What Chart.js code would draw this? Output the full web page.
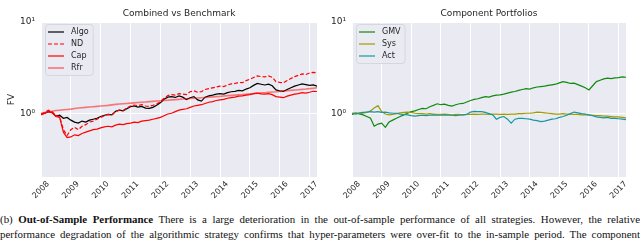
<!DOCTYPE html>
<html>
<head>
<meta charset="utf-8">
<script src="https://cdn.jsdelivr.net/npm/chart.js@4.4.1/dist/chart.umd.min.js"></script>
<style>
  body { margin: 0; background: #fff; width: 640px; overflow: hidden; }
  .row { display: flex; }
  canvas { display: block; }
  .cap { width: 640px; font-family: "Liberation Serif", serif; font-size: 10.9px; line-height: 15px; color: #111;
         text-align: justify; text-align-last: justify; white-space: nowrap; overflow: hidden; }
  .cap1 { margin-top: 7px; }
</style>
</head>
<body>
<div class="row">
  <canvas id="left" width="320" height="205"></canvas>
  <canvas id="right" width="320" height="205"></canvas>
</div>
<div class="cap cap1">(b) <b>Out-of-Sample Performance</b> There is a large deterioration in the out-of-sample performance of all strategies. However, the relative</div>
<div class="cap">performance degradation of the algorithmic strategy confirms that hyper-parameters were over-fit to the in-sample period. The component</div>
<script>
const years = [
  2008, 2008.125, 2008.25, 2008.375, 2008.5, 2008.625, 2008.75, 2008.875,
  2009, 2009.125, 2009.25, 2009.375, 2009.5, 2009.625, 2009.75, 2009.875,
  2010, 2010.125, 2010.25, 2010.375, 2010.5, 2010.625, 2010.75, 2010.875,
  2011, 2011.125, 2011.25, 2011.375, 2011.5, 2011.625, 2011.75, 2011.875,
  2012, 2012.125, 2012.25, 2012.375, 2012.5, 2012.625, 2012.75, 2012.875,
  2013, 2013.125, 2013.25, 2013.375, 2013.5, 2013.625, 2013.75, 2013.875,
  2014, 2014.125, 2014.25, 2014.375, 2014.5, 2014.625, 2014.75, 2014.875,
  2015, 2015.125, 2015.25, 2015.375, 2015.5, 2015.625, 2015.75, 2015.875,
  2016, 2016.125, 2016.25, 2016.375, 2016.5, 2016.625, 2016.75, 2016.875,
  2017, 2017.125, 2017.25
];
const yearTicks = [2008, 2009, 2010, 2011, 2012, 2013, 2014, 2015, 2016, 2017];

// left panel
const algo = [
  0.97, 1.00, 1.04, 1.02, 0.93, 0.95, 0.88, 0.90,
  0.84, 0.80, 0.78, 0.82, 0.80, 0.84, 0.86, 0.88,
  0.92, 0.95, 0.97, 0.96, 1.05, 1.08, 1.06, 1.12,
  1.18, 1.20, 1.17, 1.19, 1.14, 1.13, 1.16, 1.22,
  1.30, 1.42, 1.50, 1.52, 1.49, 1.55, 1.50, 1.41,
  1.48, 1.52, 1.40, 1.36, 1.50, 1.55, 1.58, 1.62,
  1.64, 1.62, 1.68, 1.72, 1.74, 1.78, 1.76, 1.84,
  1.90, 2.02, 2.12, 2.08, 2.04, 2.08, 2.00, 1.80,
  1.76, 1.74, 1.82, 1.90, 1.98, 2.04, 2.10, 2.06,
  2.02, 2.04, 1.98
];
const nd = [
  0.97, 1.02, 1.08, 1.04, 0.94, 0.92, 0.66, 0.57,
  0.66, 0.70, 0.66, 0.72, 0.75, 0.80, 0.82, 0.86,
  0.90, 0.94, 0.97, 0.96, 1.04, 1.08, 1.07, 1.14,
  1.20, 1.23, 1.21, 1.24, 1.20, 1.19, 1.22, 1.26,
  1.34, 1.46, 1.56, 1.60, 1.58, 1.64, 1.62, 1.60,
  1.72, 1.76, 1.70, 1.72, 1.82, 1.86, 1.90, 1.94,
  1.98, 1.96, 2.04, 2.10, 2.12, 2.18, 2.16, 2.28,
  2.36, 2.46, 2.56, 2.52, 2.50, 2.56, 2.48, 2.22,
  2.18, 2.16, 2.28, 2.40, 2.52, 2.60, 2.70, 2.66,
  2.76, 2.80, 2.78
];
const cap = [
  0.96, 1.00, 1.04, 1.01, 0.92, 0.90, 0.62, 0.54,
  0.55, 0.58, 0.57, 0.60, 0.62, 0.64, 0.66, 0.67,
  0.69, 0.71, 0.72, 0.71, 0.74, 0.76, 0.75, 0.77,
  0.78, 0.80, 0.79, 0.82, 0.83, 0.84, 0.86, 0.88,
  0.90, 0.94, 0.98, 1.00, 1.04, 1.08, 1.10, 1.12,
  1.16, 1.20, 1.22, 1.24, 1.28, 1.32, 1.34, 1.38,
  1.40, 1.42, 1.46, 1.48, 1.50, 1.54, 1.55, 1.58,
  1.60, 1.64, 1.66, 1.63, 1.62, 1.64, 1.60, 1.52,
  1.50, 1.48, 1.54, 1.58, 1.62, 1.64, 1.68, 1.66,
  1.70, 1.74, 1.73
];
const rfr = [
  1.00, 1.02, 1.04, 1.05, 1.07, 1.08, 1.09, 1.10,
  1.11, 1.125, 1.14, 1.15, 1.16, 1.17, 1.18, 1.19,
  1.20, 1.21, 1.22, 1.235, 1.25, 1.26, 1.27, 1.28,
  1.29, 1.30, 1.31, 1.32, 1.33, 1.34, 1.35, 1.36,
  1.37, 1.38, 1.39, 1.40, 1.41, 1.42, 1.43, 1.44,
  1.45, 1.46, 1.47, 1.48, 1.49, 1.50, 1.51, 1.52,
  1.53, 1.545, 1.56, 1.57, 1.58, 1.59, 1.60, 1.615,
  1.63, 1.64, 1.655, 1.67, 1.68, 1.695, 1.71, 1.72,
  1.735, 1.75, 1.765, 1.78, 1.795, 1.81, 1.825, 1.84,
  1.86, 1.88, 1.90
];

// right panel
const gmv = [
  0.97, 1.00, 0.98, 0.96, 0.92, 0.88, 0.72, 0.76,
  0.78, 0.70, 0.80, 0.84, 0.88, 0.92, 0.96, 1.00,
  1.04, 1.06, 1.10, 1.13, 1.12, 1.18, 1.22, 1.27,
  1.24, 1.26, 1.22, 1.20, 1.24, 1.27, 1.28, 1.33,
  1.38, 1.42, 1.44, 1.48, 1.52, 1.50, 1.55, 1.58,
  1.59, 1.62, 1.66, 1.70, 1.73, 1.78, 1.82, 1.86,
  1.84, 1.90, 1.94, 1.96, 1.98, 2.02, 2.05, 2.08,
  2.15, 2.22, 2.18, 2.12, 2.14, 2.06, 1.98, 1.90,
  1.80, 2.00, 2.22, 2.30, 2.38, 2.42, 2.40, 2.44,
  2.46, 2.50, 2.48
];
const sys = [
  1.00, 1.01, 0.99, 1.00, 1.02, 1.06, 1.14, 1.21,
  1.04, 0.98, 0.96, 0.97, 0.99, 1.01, 1.02, 1.03,
  1.02, 1.00, 0.99, 0.99, 0.98, 0.99, 0.98, 0.97,
  0.97, 0.98, 0.97, 0.96, 0.97, 0.97, 0.96, 0.97,
  0.97, 0.98, 0.97, 0.98, 0.98, 0.97, 0.98, 0.98,
  0.97, 0.98, 0.97, 0.98, 0.98, 0.99, 0.99, 1.00,
  1.00, 1.01, 1.03, 1.02, 1.01, 1.00, 0.99, 0.98,
  0.98, 0.99, 0.98, 0.98, 0.97, 0.97, 0.96, 0.96,
  0.95, 0.95, 0.94, 0.94, 0.93, 0.93, 0.92, 0.91,
  0.91, 0.90, 0.89
];
const act = [
  1.00, 0.98, 1.01, 1.02, 1.03, 1.04, 1.03, 1.04,
  1.02, 1.03, 1.01, 1.00, 1.00, 0.98, 0.97, 0.96,
  0.94, 0.93, 0.94, 0.95, 0.94, 0.95, 0.96, 0.95,
  0.95, 0.96, 0.95, 0.95, 0.94, 0.95, 0.96, 0.97,
  1.03, 1.05, 1.04, 1.04, 1.02, 0.99, 0.96, 0.86,
  0.90, 0.92, 0.86, 0.78, 0.86, 0.88, 0.88, 0.87,
  0.86, 0.84, 0.83, 0.81, 0.82, 0.84, 0.86, 0.87,
  0.90, 0.92, 0.95, 0.99, 1.03, 1.01, 0.99, 0.98,
  0.96, 0.94, 0.91, 0.90, 0.89, 0.90, 0.88, 0.88,
  0.87, 0.86, 0.85
];

Chart.defaults.font.family = '"DejaVu Sans", sans-serif';
Chart.defaults.color = '#262626';

const pts = (vals) => years.map((t, i) => ({ x: t, y: vals[i] }));

// axes background
const bgPlugin = {
  id: 'bg',
  beforeDraw(chart) {
    const { ctx, chartArea: a } = chart;
    ctx.save();
    ctx.fillStyle = '#EAEAF2';
    ctx.fillRect(a.left, a.top, a.right - a.left, a.bottom - a.top);
    ctx.restore();
  }
};

// rotated year labels centred on the ticks (matplotlib style)
const yearLabels = {
  id: 'yearLabels',
  afterDraw(chart) {
    const sx = chart.scales.x, ctx = chart.ctx;
    ctx.save();
    ctx.font = '8px "DejaVu Sans"';
    ctx.fillStyle = '#262626';
    ctx.textAlign = 'center';
    ctx.textBaseline = 'middle';
    sx.ticks.forEach(t => {
      ctx.save();
      ctx.translate(sx.getPixelForValue(t.value), sx.top + 13);
      ctx.rotate(-Math.PI / 4);
      ctx.fillText(String(t.value), 0, 0);
      ctx.restore();
    });
    ctx.restore();
  }
};

// framed legend in the upper left corner
const legendBox = {
  id: 'legendBox',
  afterDatasetsDraw(chart) {
    const { ctx, chartArea: a } = chart;
    const sets = chart.data.datasets;
    ctx.save();
    ctx.font = '8px "DejaVu Sans"';
    const tw = Math.max(...sets.map(d => ctx.measureText(d.label).width));
    const x0 = a.left + 4, y0 = a.top + 2;
    const w = 26 + tw + 4, h = 15 + 12 * (sets.length - 1);
    ctx.beginPath();
    ctx.roundRect(x0 + 0.5, y0 + 0.5, w, h, 3);
    ctx.fillStyle = 'rgba(234,234,242,0.85)';
    ctx.fill();
    ctx.strokeStyle = '#d6d6de';
    ctx.lineWidth = 1;
    ctx.stroke();
    sets.forEach((d, i) => {
      const cy = y0 + 8 + 12 * i;
      ctx.beginPath();
      ctx.setLineDash(d.borderDash || []);
      ctx.strokeStyle = d.borderColor;
      ctx.lineWidth = d.borderWidth;
      ctx.moveTo(x0 + 3, cy);
      ctx.lineTo(x0 + 19, cy);
      ctx.stroke();
      ctx.setLineDash([]);
      ctx.fillStyle = '#262626';
      ctx.textBaseline = 'middle';
      ctx.fillText(d.label, x0 + 26, cy);
    });
    ctx.restore();
  }
};

function makeOptions(title, yWidth, padRight, yTitle) {
  return {
    responsive: false,
    animation: false,
    devicePixelRatio: 1,
    layout: { padding: { left: 0, right: padRight, top: 0, bottom: 0 } },
    elements: { point: { radius: 0 }, line: { tension: 0 } },
    plugins: {
      legend: { display: false },
      tooltip: { enabled: false },
      title: {
        display: true, text: title, fullSize: false,
        font: { size: 9, weight: 'normal' }, color: '#262626',
        padding: { top: 8, bottom: 3.2 }
      }
    },
    scales: {
      x: {
        type: 'linear', min: 2008, max: 2017.25,
        afterBuildTicks: (s) => { s.ticks = yearTicks.map(v => ({ value: v })); },
        afterFit: (s) => { s.height = 28; },
        ticks: { display: false },
        grid: { color: '#ffffff', lineWidth: 1, drawTicks: false },
        border: { display: false }
      },
      y: {
        type: 'logarithmic', min: 0.2, max: 10,
        afterBuildTicks: (s) => { s.ticks = [{ value: 1 }, { value: 10 }]; },
        afterFit: (s) => { s.width = yWidth; },
        ticks: {
          padding: 6, font: { size: 9 }, color: '#262626',
          callback: (v) => (v === 1 ? '10\u2070' : '10\u00b9')
        },
        title: yTitle
          ? { display: true, text: yTitle, font: { size: 9 }, color: '#262626', padding: { top: 6.6, bottom: 0 } }
          : { display: false },
        grid: { color: '#ffffff', lineWidth: 1, drawTicks: false },
        border: { display: false }
      }
    }
  };
}

const line = (label, vals, color, width, extra) => Object.assign({
  label, data: pts(vals), borderColor: color, borderWidth: width, fill: false, pointRadius: 0
}, extra || {});

new Chart(document.getElementById('left'), {
  type: 'line',
  data: {
    datasets: [
      line('Algo', algo, '#000000', 1.2, { order: 4 }),
      line('ND', nd, '#ff0000', 1.2, { borderDash: [4, 2], order: 3 }),
      line('Cap', cap, '#ff0000', 1.2, { order: 2 }),
      line('Rfr', rfr, 'rgba(255,0,0,0.5)', 1.6, { order: 1 })
    ]
  },
  options: makeOptions('Combined vs Benchmark', 41, 3, 'FV'),
  plugins: [bgPlugin, yearLabels, legendBox]
});

new Chart(document.getElementById('right'), {
  type: 'line',
  data: {
    datasets: [
      line('GMV', gmv, '#0f8a0f', 1.2, { order: 3 }),
      line('Sys', sys, '#a39a00', 1.2, { order: 2 }),
      line('Act', act, '#1697a0', 1.2, { order: 1 })
    ]
  },
  options: makeOptions('Component Portfolios', 32, 14, null),
  plugins: [bgPlugin, yearLabels, legendBox]
});
</script>
</body>
</html>
